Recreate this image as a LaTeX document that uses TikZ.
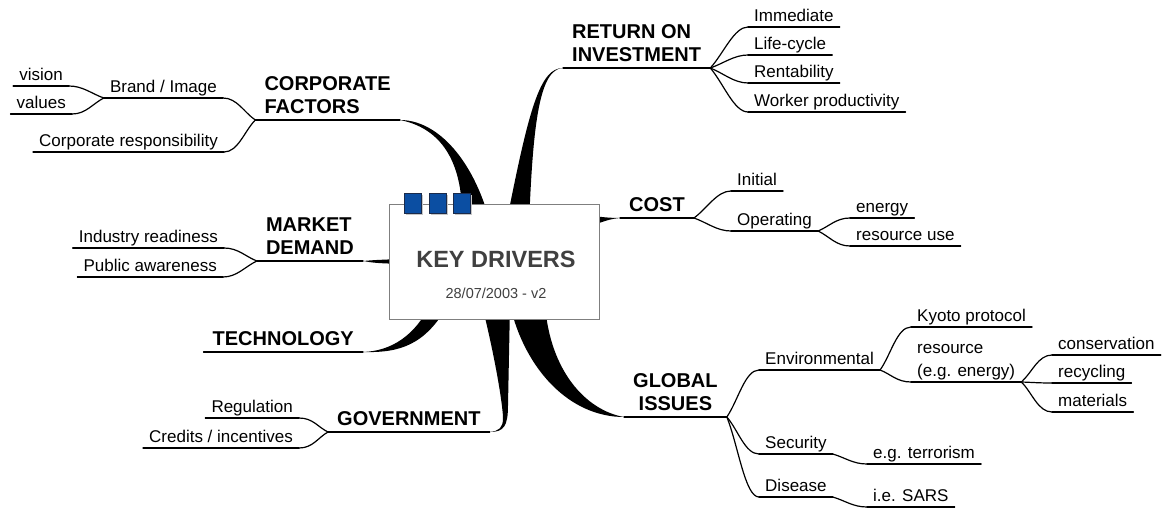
\documentclass[tikz,border=0pt]{standalone}
\usepackage{fontspec}
\setmainfont{Liberation Sans}
\usetikzlibrary{backgrounds,calc}
\definecolor{tabblue}{HTML}{0B4EA2}
\definecolor{tabedge}{HTML}{1B2B4B}
\definecolor{boxedge}{HTML}{7F7F7F}
\definecolor{titlegray}{HTML}{404040}
\tikzset{
  hub/.style={font=\fontsize{20}{23.5}\selectfont\bfseries, inner xsep=9pt, inner ysep=0pt, text depth=6pt, align=left},
  leaf/.style={font=\fontsize{17}{23}\selectfont, inner xsep=6pt, inner ysep=0pt, text depth=5.5pt, align=left},
  twig/.style={line width=1.2pt, line cap=round},
  limb/.style={fill=black},
  keybox/.style={draw=boxedge, line width=1pt, fill=white, minimum width=210pt, minimum height=115pt, inner sep=0pt},
  tab/.style={draw=tabedge, fill=tabblue, line width=0.8pt}
}
\begin{document}
\begin{tikzpicture}[x=1pt, y=-1pt]
\useasboundingbox (0,0) rectangle (1164,524);
% centre
\node[keybox] (key) at (494,261.5) {};
\node[font=\fontsize{23.5}{26}\selectfont\bfseries, text=titlegray, anchor=base, inner sep=0pt] (title) at (496,267) {KEY DRIVERS};
\node[font=\fontsize{14.5}{17}\selectfont, text=titlegray, anchor=base, inner sep=0pt] (date) at (496,298) {28/07/2003 - v2};
\foreach \x in {404,429,453} {
  \fill[gray!45] (\x+2,195) rectangle +(17,20);
  \draw[tab] (\x,193) rectangle +(17,20);
}
% main branches
\node[hub, anchor=south west] (roi) at (563,68) {RETURN ON\\INVESTMENT};
\node[hub, anchor=south west] (cost) at (620,218) {COST};
\node[hub, anchor=south west, align=center] (global) at (624,417) {GLOBAL\\ISSUES};
\node[hub, anchor=south east] (corp) at (400,120) {CORPORATE\\FACTORS};
\node[hub, anchor=south east] (market) at (363,261) {MARKET\\DEMAND};
\node[hub, anchor=south east] (tech) at (363,352) {TECHNOLOGY};
\node[hub, anchor=south west] (gov) at (328,432) {GOVERNMENT};
% return on investment
\node[leaf, anchor=south west] (imm) at (748,27) {Immediate};
\node[leaf, anchor=south west] (life) at (748,55) {Life-cycle};
\node[leaf, anchor=south west] (rent) at (748,83) {Rentability};
\node[leaf, anchor=south west] (work) at (748,112) {Worker productivity};
% cost
\node[leaf, anchor=south west] (init) at (731,191) {Initial};
\node[leaf, anchor=south west] (oper) at (731,231) {Operating};
\node[leaf, anchor=south west] (energy) at (850,218) {energy};
\node[leaf, anchor=south west] (resuse) at (850,246) {resource use};
% global issues
\node[leaf, anchor=south west] (env) at (759,370) {Environmental};
\node[leaf, anchor=south west] (kyoto) at (911,327) {Kyoto protocol};
\node[leaf, anchor=south west] (res) at (911,382) {resource\\(e.g. energy)};
\node[leaf, anchor=south west] (cons) at (1052,355) {conservation};
\node[leaf, anchor=south west] (recy) at (1052,383) {recycling};
\node[leaf, anchor=south west] (mat) at (1052,412) {materials};
\node[leaf, anchor=south west] (sec) at (759,454) {Security};
\node[leaf, anchor=south west] (terr) at (867,464) {e.g. terrorism};
\node[leaf, anchor=south west] (dis) at (759,497) {Disease};
\node[leaf, anchor=south west] (sars) at (867,507) {i.e. SARS};
% corporate factors, market demand, government
\node[leaf, anchor=south east] (brand) at (223,98) {Brand / Image};
\node[leaf, anchor=south east] (vision) at (69,86) {vision};
\node[leaf, anchor=south east] (values) at (72,114) {values};
\node[leaf, anchor=south east] (resp) at (224,152) {Corporate responsibility};
\node[leaf, anchor=south east] (indus) at (224,248) {Industry readiness};
\node[leaf, anchor=south east] (public) at (223,277) {Public awareness};
\node[leaf, anchor=south east] (regul) at (299,418) {Regulation};
\node[leaf, anchor=south east] (credit) at (299,448) {Credits / incentives};
% underlines
\foreach \n in {roi,cost,global,corp,market,tech,gov,imm,life,rent,work,init,oper,energy,resuse,env,kyoto,res,cons,recy,mat,sec,terr,dis,sars,brand,vision,values,resp,indus,public,regul,credit}
  \draw[twig] (\n.south west) -- (\n.south east);
% forks to the right
\foreach \a/\b in {roi/imm,roi/life,roi/rent,roi/work,cost/init,cost/oper,oper/energy,oper/resuse,global/env,global/sec,global/dis,env/kyoto,env/res,res/cons,res/recy,res/mat,sec/terr,dis/sars}
  \draw[twig] (\a.south east) .. controls ($(\a.south east)!0.35!(\b.south west)$) and ([xshift=-14pt]\b.south west) .. (\b.south west);
% forks to the left
\foreach \a/\b in {corp/brand,corp/resp,brand/vision,brand/values,market/indus,market/public,gov/regul,gov/credit}
  \draw[twig] (\a.south west) .. controls ($(\a.south west)!0.35!(\b.south east)$) and ([xshift=14pt]\b.south east) .. (\b.south east);
% thick limbs behind the box
\begin{scope}[on background layer]
\fill[white] (0,0) rectangle (1164,524);
\fill[limb] (roi.south west) .. controls (540,68) and (529,108) .. (506,225) -- (529,225) .. controls (533,120) and (540,69) .. (roi.south west);
\fill[limb] (cost.south west) .. controls (605,218) and (595,216) .. (575,214) -- (575,230) .. controls (595,226) and (605,219) .. (cost.south west);
\fill[limb] (global.south west) .. controls (585,410) and (550,370) .. (545,305) -- (510,305) .. controls (525,370) and (570,417) .. (global.south west);
\fill[limb] (gov.south east) .. controls (504,432) and (508,426) .. (508,405) -- (510,305) -- (482,305) .. controls (498,370) and (503,410) .. (503,418) .. controls (503,428) and (499,431) .. (gov.south east);
\fill[limb] (tech.south east) .. controls (400,353) and (425,345) .. (448,305) -- (430,305) .. controls (415,335) and (392,351) .. (tech.south east);
\fill[limb] (market.south east) .. controls (375,260) .. (400,259) -- (400,264) .. controls (375,263) .. (market.south east);
\fill[limb] (corp.south east) .. controls (435,120) and (470,155) .. (488,215) -- (462,215) .. controls (462,175) and (450,130) .. (corp.south east);
\end{scope}
\end{tikzpicture}
\end{document}
